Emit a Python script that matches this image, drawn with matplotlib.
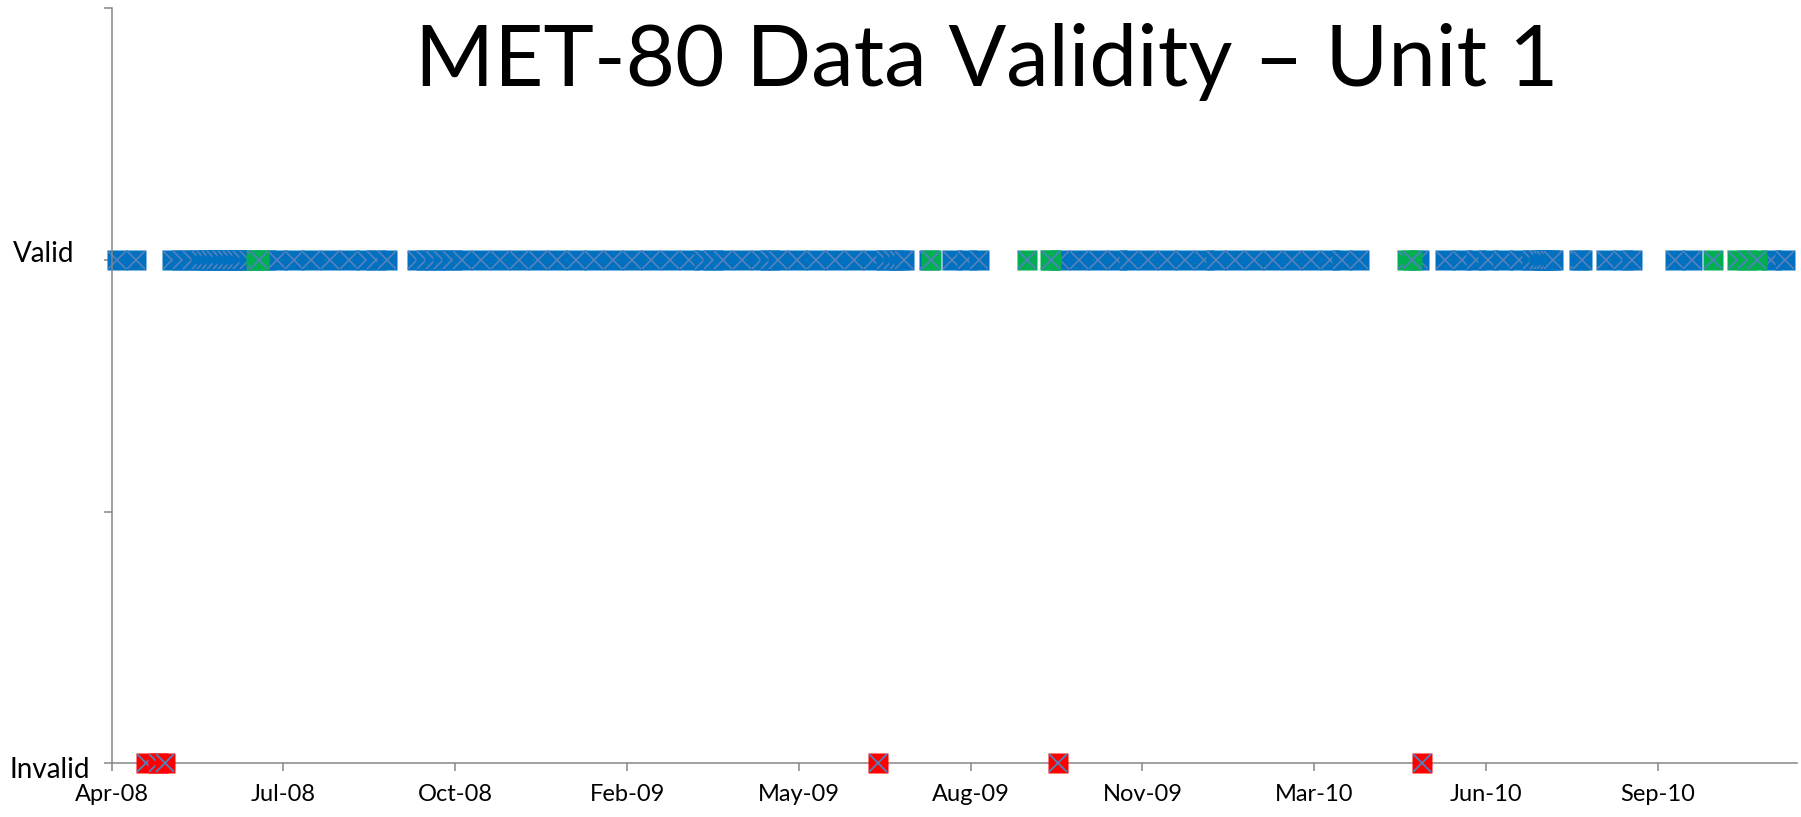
"""
MET-80 data validity timeline for Unit 1: each test date is shown as a filled
square with an X, placed on the "Valid" or "Invalid" row.
"""

import matplotlib
matplotlib.use("Agg")
import matplotlib.pyplot as plt
import matplotlib.dates as mdates
import pandas as pd

# axis range and tick spacing (days)
AXIS_START = "2008-04-08"
AXIS_END = "2010-12-15"
TICK_STEP_DAYS = 100
N_TICKS = 10

# valid records, blue
valid_blue_dates = [
    "2008-04-11", "2008-04-22",
    "2008-05-13", "2008-05-19", "2008-05-25", "2008-05-30", "2008-06-02",
    "2008-06-05", "2008-06-08", "2008-06-11", "2008-06-14", "2008-06-17",
    "2008-06-20", "2008-06-23", "2008-06-27", "2008-07-07", "2008-07-13",
    "2008-07-23", "2008-08-02", "2008-08-13", "2008-08-24", "2008-09-03",
    "2008-09-09", "2008-09-15",
    "2008-10-03", "2008-10-08", "2008-10-13", "2008-10-18", "2008-10-23",
    "2008-10-29", "2008-11-09", "2008-11-20", "2008-12-01", "2008-12-12",
    "2008-12-23", "2009-01-03", "2009-01-14", "2009-01-25", "2009-02-05",
    "2009-02-16", "2009-02-27", "2009-03-10", "2009-03-19", "2009-03-24",
    "2009-03-30", "2009-04-10", "2009-04-21", "2009-04-26", "2009-05-01",
    "2009-05-12", "2009-05-23", "2009-06-03", "2009-06-14", "2009-06-25",
    "2009-07-03", "2009-07-07", "2009-07-10", "2009-07-13",
    "2009-07-28", "2009-08-10", "2009-08-19", "2009-08-26",
    "2009-10-12", "2009-10-23", "2009-11-03", "2009-11-14", "2009-11-21",
    "2009-12-02", "2009-12-13", "2009-12-24", "2010-01-04", "2010-01-11",
    "2010-01-22", "2010-02-02", "2010-02-13", "2010-02-24", "2010-03-07",
    "2010-03-18", "2010-03-25", "2010-04-04",
    "2010-05-09",
    "2010-05-24", "2010-06-03", "2010-06-11", "2010-06-18", "2010-06-27",
    "2010-07-06", "2010-07-14", "2010-07-18", "2010-07-20", "2010-07-22",
    "2010-07-24", "2010-07-26",
    "2010-08-10", "2010-08-12",
    "2010-08-26", "2010-09-05", "2010-09-10",
    "2010-10-05", "2010-10-15",
    "2010-11-30", "2010-12-08",
]

# valid records, green
valid_green_dates = [
    "2008-07-01", "2008-07-03",
    "2009-07-29",
    "2009-09-23",
    "2009-10-06", "2009-10-07",
    "2010-05-02", "2010-05-05",
    "2010-10-27",
    "2010-11-10", "2010-11-16", "2010-11-22",
]

# invalid records, red
invalid_dates = [
    "2008-04-28", "2008-05-05", "2008-05-09",
    "2009-06-28",
    "2009-10-11",
    "2010-05-11",
]

VALID = 1.0
INVALID = 0.0

BLUE = "#0070C0"
GREEN = "#00B050"
RED = "#FF0000"
X_COLOR = "#4F81BD"
AXIS_GREY = "#868686"

W, H, DPI = 1801, 817, 100
MS = 20.5 * 72 / DPI  # marker side, points


def draw_points(ax, dates, level, fill, z):
    # each point: filled square, then its X, so later points cover earlier X's
    for d in pd.to_datetime(dates):
        ax.plot([d], [level], ls="none", marker="s", ms=MS, mfc=fill,
                mec="none", zorder=z, clip_on=False)
        ax.plot([d], [level], ls="none", marker="x", ms=MS * 0.92,
                mec=X_COLOR, mew=1.3, zorder=z + 1, clip_on=False)
        z += 2
    return z


def main():
    plt.rcParams["font.family"] = ["Lato", "DejaVu Sans"]

    fig = plt.figure(figsize=(W / DPI, H / DPI), dpi=DPI)
    left, right, top, bottom = 111.7, 1797, 7.8, 763.4
    ax = fig.add_axes([left / W, 1 - bottom / H, (right - left) / W, (bottom - top) / H])

    start = pd.Timestamp(AXIS_START)
    end = pd.Timestamp(AXIS_END)
    ax.set_xlim(start, end)
    ax.set_ylim(0, 1.5)

    z = 3
    z = draw_points(ax, valid_blue_dates, VALID, BLUE, z)
    z = draw_points(ax, valid_green_dates, VALID, GREEN, z)
    z = draw_points(ax, invalid_dates, INVALID, RED, z)

    ticks = [start + pd.Timedelta(days=TICK_STEP_DAYS * k) for k in range(N_TICKS)]
    ax.set_xticks(ticks)
    ax.xaxis.set_major_formatter(mdates.DateFormatter("%b-%y"))
    ax.set_yticks([0, 0.5, 1.0, 1.5])
    ax.set_yticklabels([])

    for side in ["top", "right"]:
        ax.spines[side].set_visible(False)
    for side in ["left", "bottom"]:
        ax.spines[side].set_color(AXIS_GREY)
        ax.spines[side].set_linewidth(1.1)
    ax.spines["left"].set_zorder(100000)
    ax.spines["bottom"].set_zorder(1)

    ax.tick_params(axis="both", direction="out", length=6, width=1.1,
                   color=AXIS_GREY)
    ax.tick_params(axis="x", labelsize=17, pad=9, labelcolor="black")

    fig.text(12.7 / W, 1 - 254 / H, "Valid", fontsize=20, ha="left", va="center")
    fig.text(9 / W, 1 - 770 / H, "Invalid", fontsize=20, ha="left", va="center")

    fig.text(986.5 / W, 1 - 86 / H, "MET-80 Data Validity \u2013 Unit 1",
             fontsize=61.5, ha="center", va="baseline")

    fig.savefig("out.png", dpi=DPI)
    plt.close(fig)


if __name__ == "__main__":
    main()
